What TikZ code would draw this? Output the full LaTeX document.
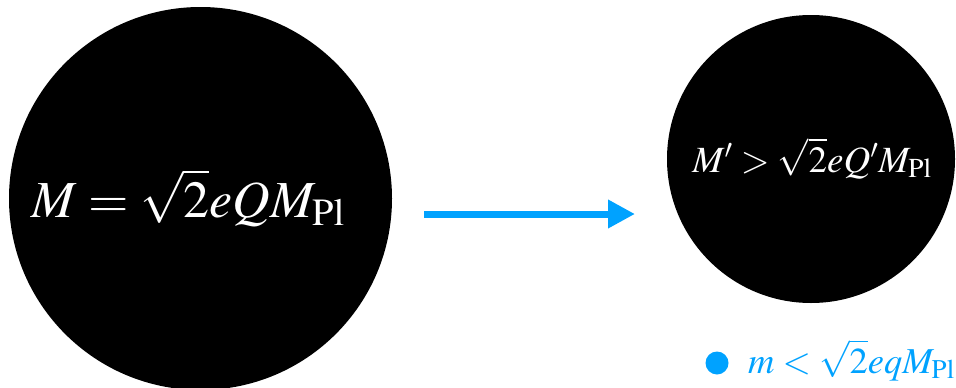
\documentclass[tikz,border=0pt]{standalone}
\usepackage{mathptmx}
\usetikzlibrary{arrows.meta}
\definecolor{skyblue}{RGB}{0,162,255}
\tikzset{
  hole/.style={circle, fill=black, draw=none, inner sep=0pt},
  eqwhite/.style={text=white, inner sep=0pt, anchor=base},
  flow/.style={draw=skyblue, line width=7pt, -{Triangle[length=27pt,width=27pt]}},
  particle/.style={circle, fill=skyblue, inner sep=0pt, minimum size=23pt},
  eqblue/.style={text=skyblue, inner sep=0pt, anchor=base west}
}
\begin{document}
\begin{tikzpicture}[x=1pt,y=-1pt]
\useasboundingbox (0,0) rectangle (956,388);
\begin{scope}
\clip (0,0) rectangle (956,388);
\node[hole, minimum size=383pt] (bh1) at (200.5,198.5) {};
\end{scope}
\node[hole, minimum size=288pt] (bh2) at (811,159) {};
\node[eqwhite, font=\fontsize{52}{62}\selectfont] (t1) at (188,217)
  {$M=\sqrt{2}eQM_{\mathrm{Pl}}$};
\node[eqwhite, font=\fontsize{37}{44}\selectfont] (t2) at (812,172)
  {$M'>\sqrt{2}eQ'M_{\mathrm{Pl}}$};
\coordinate (a1) at (424,214);
\coordinate (a2) at (635,214);
\draw[flow] (a1) -- (a2);
\node[particle] (dot) at (717,363) {};
\node[eqblue, font=\fontsize{36.5}{44}\selectfont] (t3) at (748,373)
  {$m<\sqrt{2}eqM_{\mathrm{Pl}}$};
\end{tikzpicture}
\end{document}
